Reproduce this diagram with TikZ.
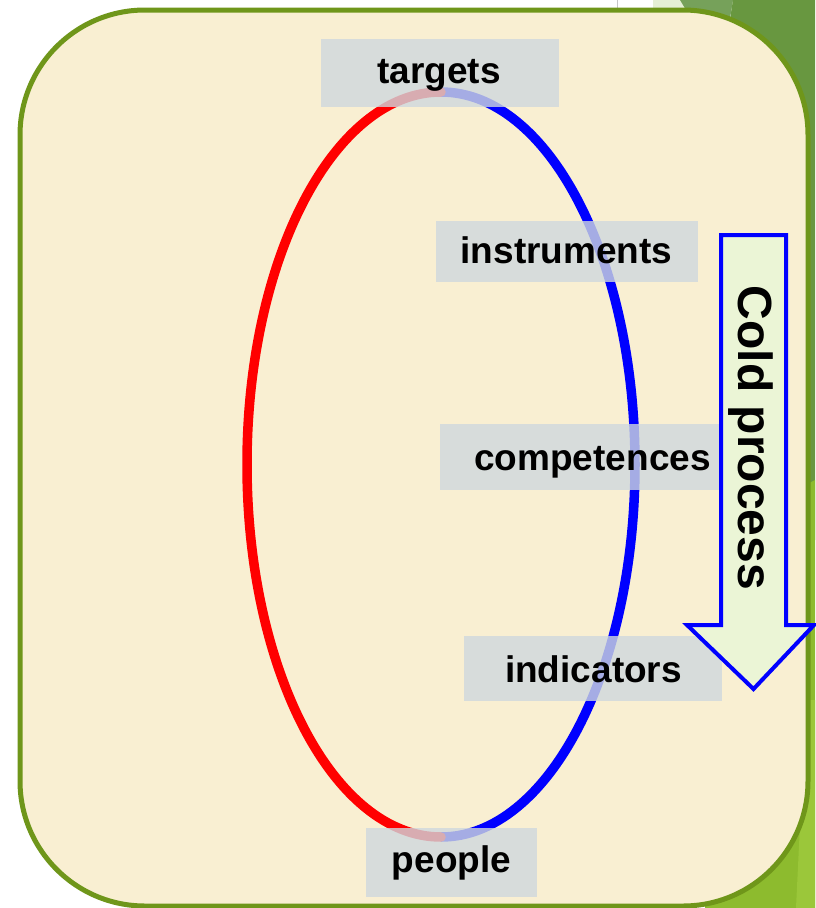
\documentclass[tikz,border=0pt]{standalone}
\usepackage{fontspec}
\setmainfont{Liberation Sans}
\definecolor{beige}{RGB}{249,239,210}
\definecolor{olivebrd}{RGB}{111,150,26}
\definecolor{darkgrn}{RGB}{104,151,64}
\definecolor{midgrn}{RGB}{118,161,90}
\definecolor{palegrn}{RGB}{229,239,212}
\definecolor{brightgrn}{RGB}{141,187,46}
\definecolor{stripegrn}{RGB}{155,199,58}
\definecolor{boxgrey}{RGB}{207,216,222}
\definecolor{arrowfill}{RGB}{235,245,214}
\begin{document}
\begin{tikzpicture}[x=1pt,y=-1pt,
  labeltext/.style={font=\fontsize{37}{40}\selectfont\bfseries, text=black, inner sep=0pt, anchor=base},
  labelbox/.style={fill=boxgrey, fill opacity=0.8},
  ring/.style={line width=9.5pt},
]
\useasboundingbox (0,0) rectangle (815,908);
\fill[white] (0,0) rectangle (815,908);
% slide background decorations
\fill[palegrn] (653,0) rectangle (815,14);
\draw[gray!45, line width=0.8pt] (617,0) -- (617,10);
\fill[midgrn] (680,0) -- (733,0) -- (728,30) -- (698,30) -- cycle;
\fill[darkgrn] (733,0) -- (815,0) -- (815,540) -- (650,540) -- cycle;
\fill[brightgrn] (740,520) -- (815,480) -- (815,908) -- (705,908) -- cycle;
\fill[stripegrn] (806,700) -- (815,700) -- (815,908) -- (796,908) -- cycle;
% main panel
\draw[olivebrd, line width=5pt, fill=beige, rounded corners=125pt] (20,10) rectangle (808,906);
% ring
\coordinate (c) at (441,464.5);
\draw[ring, blue] (441,92) arc[start angle=-90, end angle=90, x radius=194, y radius=372.5];
\draw[ring, red, line cap=round] (441,92) arc[start angle=270, end angle=90, x radius=194, y radius=372.5];
% label boxes
\fill[labelbox] (321,39) rectangle (559,107);
\fill[labelbox] (436,221) rectangle (698,282);
\fill[labelbox] (440,424) rectangle (719,490);
\fill[labelbox] (464,636) rectangle (722,701);
\fill[labelbox] (366,828) rectangle (537,897);
% label texts
\node[labeltext] (targets) at (439,83) {targets};
\node[labeltext] (instruments) at (566.5,263) {instruments};
\node[labeltext] (competences) at (592.5,470) {competences};
\node[labeltext] (indicators) at (593.5,682) {indicators};
\node[labeltext] (people) at (451.5,872) {people};
% arrow
\draw[blue, line width=4pt, fill=arrowfill, line join=miter]
  (721,235) -- (786,235) -- (786,625) -- (814,625) -- (753.5,689) -- (687,625) -- (721,625) -- cycle;
\node[font=\fontsize{48}{50}\selectfont\bfseries, rotate=-90, anchor=base, inner sep=0pt] (cold) at (738,438) {Cold process};
\end{tikzpicture}
\end{document}
